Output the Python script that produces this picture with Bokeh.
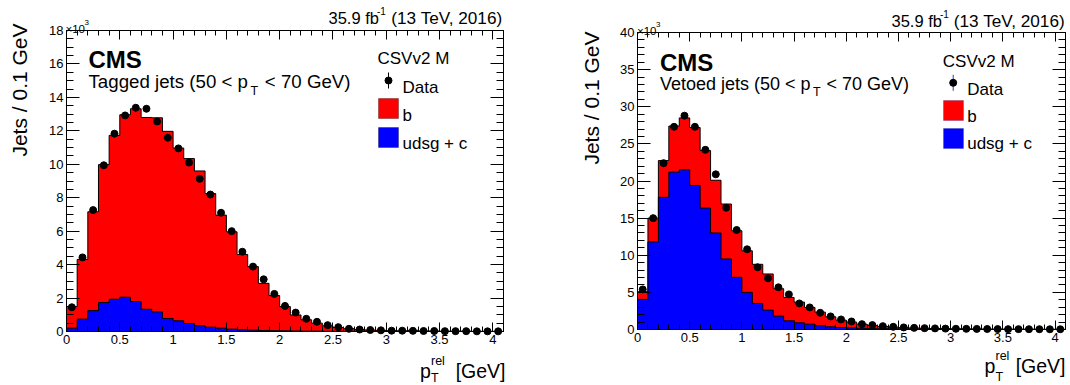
import numpy as np
from bokeh.plotting import figure
from bokeh.layouts import row
from bokeh.models import (Label, LinearAxis, FixedTicker, Range1d, NumeralTickFormatter,
                          BoxAnnotation, CustomLabelingPolicy)
from bokeh.embed import file_html
from bokeh.resources import INLINE

# ---------------- data (thousands of jets per 0.1 GeV bin, p_T^rel from 0 to 4.1 GeV) -------------
bin_edges = [round(0.1 * i, 1) for i in range(42)]

tagged_data = [1.45, 4.43, 7.26, 9.94, 11.83, 12.92, 13.38, 13.32, 12.56, 11.59,
               10.95, 10.10, 9.13, 8.19, 7.10, 6.00, 4.77, 3.88, 3.12, 2.25,
               1.53, 1.13, 0.76, 0.58, 0.38, 0.26, 0.16, 0.12, 0.09, 0.07,
               0.05, 0.05, 0.04, 0.03, 0.03, 0.02, 0.02, 0.02, 0.01, 0.01, 0.01]
tagged_b = [1.29, 3.57, 5.91, 8.25, 9.80, 10.91, 11.53, 11.47, 11.61, 11.19,
            10.33, 9.86, 9.26, 7.99, 6.76, 5.82, 4.51, 3.80, 2.82, 2.10,
            1.45, 0.96, 0.68, 0.48, 0.33, 0.23, 0.16, 0.11, 0.09, 0.07,
            0.05, 0.04, 0.07, 0.03, 0.03, 0.02, 0.02, 0.02, 0.01, 0.01, 0.01]
tagged_udsgc = [0.20, 0.74, 1.25, 1.73, 1.93, 2.05, 1.79, 1.33, 1.17, 0.78,
                0.64, 0.48, 0.34, 0.26, 0.20, 0.14, 0.10, 0.08, 0.06, 0.05,
                0.04, 0.03, 0.02, 0.02, 0.01, 0.01, 0.01, 0.01, 0.0, 0.0,
                0.0, 0.0, 0.0, 0.0, 0.0, 0.0, 0.0, 0.0, 0.0, 0.0, 0.0]

vetoed_data = [5.4, 15.0, 22.4, 27.3, 28.8, 27.3, 24.2, 20.9, 16.4, 13.4,
               10.8, 8.38, 6.89, 5.68, 4.73, 3.51, 2.97, 2.25, 1.76, 1.35,
               1.08, 0.72, 0.59, 0.45, 0.36, 0.28, 0.22, 0.18, 0.15, 0.12,
               0.10, 0.09, 0.08, 0.07, 0.06, 0.05, 0.05, 0.04, 0.04, 0.03, 0.03]
vetoed_b = [1.04, 3.2, 4.95, 6.2, 7.0, 7.8, 7.75, 7.1, 7.4, 6.27,
            5.6, 5.27, 4.87, 3.70, 3.15, 2.79, 2.25, 1.84, 1.35, 0.99,
            0.78, 0.56, 0.42, 0.31, 0.24, 0.19, 0.15, 0.12, 0.10, 0.08,
            0.07, 0.06, 0.05, 0.05, 0.04, 0.04, 0.03, 0.03, 0.03, 0.03, 0.03]
vetoed_udsgc = [4.05, 11.8, 17.8, 21.2, 21.5, 19.4, 16.35, 13.0, 9.5, 7.03,
                5.0, 3.51, 2.61, 1.80, 1.17, 0.90, 0.72, 0.50, 0.36, 0.27,
                0.21, 0.16, 0.12, 0.10, 0.08, 0.06, 0.05, 0.04, 0.03, 0.03,
                0.02, 0.02, 0.02, 0.01, 0.01, 0.01, 0.01, 0.01, 0.0, 0.0, 0.0]

x_major_ticks = [0, 0.5, 1, 1.5, 2, 2.5, 3, 3.5, 4]
x_minor_ticks = [round(0.1 * i, 1) for i in range(42)]
tagged_y_ticks = [0, 2, 4, 6, 8, 10, 12, 14, 16, 18]
tagged_y_minor = [0.5 * i for i in range(37)]
vetoed_y_ticks = [0, 5, 10, 15, 20, 25, 30, 35, 40]
vetoed_y_minor = list(range(41))

FONT = "Liberation Sans"
RED = "#ff0000"
BLUE = "#0000ff"
FIG_H = 385
X_MAX = 4.1
NO_LABELS = CustomLabelingPolicy(code="return new Set()")


def style_axis(ax, tick_len, minor_len, labels=True):
    ax.axis_line_color = "black"
    ax.axis_line_width = 1
    ax.major_tick_line_color = "black"
    ax.minor_tick_line_color = "black"
    ax.major_tick_in = tick_len
    ax.major_tick_out = 0
    ax.minor_tick_in = minor_len
    ax.minor_tick_out = 0
    if labels:
        ax.major_label_text_font = FONT
        ax.major_label_text_font_size = "13px"
        ax.major_label_text_color = "black"
        ax.major_label_standoff = 3
    else:
        ax.major_label_policy = NO_LABELS
        ax.major_label_text_font_size = "0px"
        ax.major_label_standoff = 0


def make_panel(fig_left, fig_w, frame, y_max, y_ticks, y_minor, data, b, udsgc, texts, legend):
    fl, fr, ft, fb = frame          # where the histogram frame lies on the page (px)
    sx = (fr - fl) / X_MAX
    sy = (fb - ft) / y_max
    x_lo = -(fl - fig_left) / sx
    x_hi = X_MAX + (fig_left + fig_w - fr) / sx
    y_hi = y_max + ft / sy
    y_lo = -(FIG_H - fb) / sy
    p = figure(width=fig_w, height=FIG_H, x_range=Range1d(x_lo, x_hi), y_range=Range1d(y_lo, y_hi),
               output_backend="svg", toolbar_location=None, min_border=0)
    p.xgrid.visible = False
    p.ygrid.visible = False
    p.background_fill_color = "white"
    p.border_fill_color = "white"
    p.outline_line_color = None

    def at(xp, yp):
        return (xp - fl) / sx, (fb - yp) / sy

    xt = FixedTicker(ticks=x_major_ticks, minor_ticks=x_minor_ticks)
    yt = FixedTicker(ticks=y_ticks, minor_ticks=y_minor)
    xa = p.xaxis[0]
    xa.ticker = xt
    xa.formatter = NumeralTickFormatter(format="0.[0]")
    xa.fixed_location = 0
    xa.bounds = (0, X_MAX)
    ya = p.yaxis[0]
    ya.ticker = yt
    ya.fixed_location = 0
    ya.bounds = (0, y_max)
    style_axis(xa, 9, 5)
    style_axis(ya, 13, 7)
    top = LinearAxis(ticker=xt, fixed_location=y_max, bounds=(0, X_MAX))
    style_axis(top, 9, 5, labels=False)
    p.add_layout(top, "above")
    right = LinearAxis(ticker=yt, fixed_location=X_MAX, bounds=(0, y_max))
    style_axis(right, 13, 7, labels=False)
    p.add_layout(right, "right")

    edges = np.array(bin_edges)
    b = np.array(b)
    udsgc = np.array(udsgc)
    total = b + udsgc

    def outline(v):
        xs = np.repeat(edges, 2)
        ys = np.concatenate([[0.0], np.repeat(v, 2), [0.0]])
        return xs, ys

    xs, ys = outline(total)
    p.patch(xs, ys, fill_color=RED, line_color="black", line_width=1)
    xs, ys = outline(udsgc)
    p.patch(xs, ys, fill_color=BLUE, line_color="black", line_width=1)

    centers = (edges[:-1] + edges[1:]) / 2
    p.scatter(centers, data, size=7, color="black")

    for (xp, yp, text, size, kw) in texts:
        x, y = at(xp, yp)
        opts = {"text_baseline": "alphabetic"}
        opts.update(kw)
        p.add_layout(Label(x=x, y=y, text=text, text_font=FONT, text_font_size=size,
                           text_color="black", **opts))

    (mx, my, bar_col, box_l, box_r, red_t, red_b, blue_t, blue_b, box_line) = legend
    x0, y0 = at(mx, my - 8)
    x1, y1 = at(mx, my + 8)
    p.segment(x0=[x0], y0=[y0], x1=[x1], y1=[y1], line_color=bar_col, line_width=1)
    xm, ym = at(mx, my)
    p.scatter([xm], [ym], size=7, color="black")
    for (t, bt, col) in [(red_t, red_b, RED), (blue_t, blue_b, BLUE)]:
        l, tt = at(box_l, t)
        r, bb = at(box_r, bt)
        p.add_layout(BoxAnnotation(left=l, right=r, top=tt, bottom=bb, fill_color=col,
                                   fill_alpha=1.0, line_color=box_line, line_width=1))
    return p


# ---------------- left panel: tagged jets ----------------
L_FIG_LEFT, L_FIG_W = 0, 567
L_FRAME = (66, 503, 30, 331)
left_texts = [
    (328, 17, "35.9 fb", "16.5px", {}),
    (376.5, 10, "-1", "10px", {}),
    (502, 17, "(13 TeV, 2016)", "17.2px", {"text_align": "right"}),
    (65, 28.3, "\u00d710", "11.5px", {}),
    (84, 21.7, "3", "8px", {}),
    (88, 59, "CMS", "24px", {"text_font_style": "bold"}),
    (88, 81, "Tagged jets (50 < p", "18.7px", {}),
    (250, 90.5, "T", "12.5px", {}),
    (350, 81, "< 70 GeV)", "18.7px", {"text_align": "right"}),
    (377, 58, "CSVv2 M", "17px", {}),
    (402, 86.5, "Data", "17px", {}),
    (402, 115, "b", "17px", {}),
    (402, 143, "udsg + c", "17px", {}),
    (419.5, 370.5, "p", "19.5px", {}),
    (430.5, 360.5, "rel", "12.5px", {}),
    (430.5, 377.5, "T", "12.5px", {}),
    (505, 370.5, "[GeV]", "19.5px", {"text_align": "right"}),
    (18.5, 23, "Jets / 0.1 GeV", "21px",
     {"text_align": "right", "text_baseline": "middle", "angle": np.pi / 2}),
]
left_legend = (388, 80, "black", 378, 398, 98, 118, 127, 147, "black")

p1 = make_panel(L_FIG_LEFT, L_FIG_W, L_FRAME, 18, tagged_y_ticks, tagged_y_minor,
                tagged_data, tagged_b, tagged_udsgc, left_texts, left_legend)

# ---------------- right panel: vetoed jets ----------------
R_FIG_LEFT = L_FIG_LEFT + L_FIG_W
R_FIG_W = 1070 - R_FIG_LEFT
R_FRAME = (637, 1065, 32, 329)
right_texts = [
    (891, 20, "35.9 fb", "16.5px", {}),
    (939.5, 13, "-1", "10px", {}),
    (1064.5, 20, "(13 TeV, 2016)", "17.2px", {"text_align": "right"}),
    (636.5, 30.5, "\u00d710", "11.5px", {}),
    (655.5, 24, "3", "8px", {}),
    (659.5, 61.5, "CMS", "24px", {"text_font_style": "bold"}),
    (659.5, 83, "Vetoed jets (50 < p", "18px", {}),
    (812.5, 91.5, "T", "12.5px", {}),
    (908.5, 83, "< 70 GeV)", "18px", {"text_align": "right"}),
    (942.3, 60.7, "CSVv2 M", "17px", {}),
    (966.7, 89, "Data", "17px", {}),
    (966.7, 115.7, "b", "17px", {}),
    (966.7, 142.7, "udsg + c", "17px", {}),
    (984, 365, "p", "19.5px", {}),
    (995, 355, "rel", "12.5px", {}),
    (995, 376, "T", "12.5px", {}),
    (1065, 365, "[GeV]", "19.5px", {"text_align": "right"}),
    (590.8, 31, "Jets / 0.1 GeV", "21px",
     {"text_align": "right", "text_baseline": "middle", "angle": np.pi / 2}),
]
right_legend = (952.7, 82.3, "#3a3aa8", 943, 963, 100, 120, 128, 148, "#2a2a90")

p2 = make_panel(R_FIG_LEFT, R_FIG_W, R_FRAME, 40, vetoed_y_ticks, vetoed_y_minor,
                vetoed_data, vetoed_b, vetoed_udsgc, right_texts, right_legend)

layout = row(p1, p2)
open("out.html", "w").write(file_html(layout, INLINE))
